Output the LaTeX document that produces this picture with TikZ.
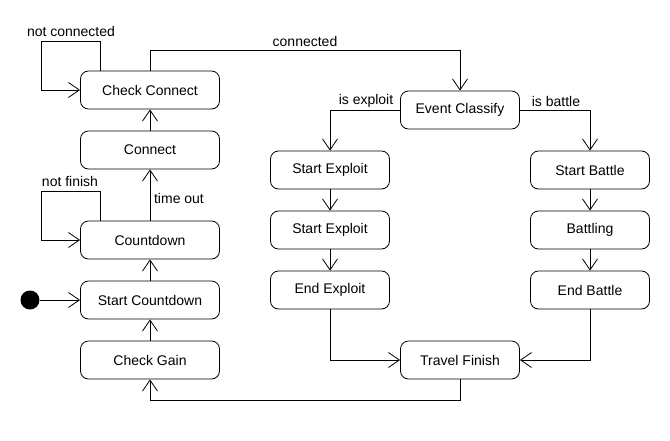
\documentclass[tikz,border=0pt]{standalone}
\usepackage{fontspec}
\setmainfont{Liberation Sans}
\usetikzlibrary{positioning, arrows.meta}

\begin{document}
\begin{tikzpicture}[x=1pt, y=-1pt, line width=0.8pt,
    every node/.style={font=\fontsize{14}{16}\selectfont},
    state/.style={draw, rounded corners=8pt, minimum width=139pt, minimum height=38pt, inner sep=0pt},
    substate/.style={state, minimum width=119pt},
    trans/.style={-{Straight Barb[length=11pt, width=15pt]}}]
    \useasboundingbox (0,0) rectangle (670,440);
    % Left column of states
    \node[state] (chkconn) at (150,90) {Check Connect};
    \node[state] (conn) at (150,150) {Connect};
    \node[state] (cdown) at (150,240) {Countdown};
    \node[state] (startcd) at (150,300) {Start Countdown};
    \node[state] (chkgain) at (150,360) {Check Gain};
    \node[circle, fill, minimum size=19pt, inner sep=0pt] (init) at (30,300) {};
    % Event branch states
    \node[substate] (evclass) at (460,110) {Event Classify};
    \node[substate] (stexp1) at (330,170) {Start Exploit};
    \node[substate] (stexp2) at (330,230) {Start Exploit};
    \node[substate] (endexp) at (330,290) {End Exploit};
    \node[substate] (stbat) at (590,170) {Start Battle};
    \node[substate] (battling) at (590,230) {Battling};
    \node[substate] (endbat) at (590,290) {End Battle};
    \node[substate] (trfin) at (460,360) {Travel Finish};
    % Helper points for bends
    \coordinate (loopA) at (41,41);
    \coordinate (loopB) at (41,191);
    \coordinate (topbend) at (150,50);
    \coordinate (botbend) at (460,400);
    % Transitions
    \draw[trans] (init) -- (startcd);
    \draw[trans] (chkgain) -- (startcd);
    \draw[trans] (startcd) -- (cdown);
    \draw[trans] (cdown) -- (conn);
    \draw[trans] (conn) -- (chkconn);
    \draw[trans] ([xshift=20pt]chkconn.north west) |- (loopA) |- (chkconn.west);
    \draw[trans] ([xshift=20pt]cdown.north west) |- (loopB) |- (cdown.west);
    \draw[trans] (chkconn.north) -- (topbend) -| (evclass.north);
    \draw[trans] (evclass.west) -| (stexp1.north);
    \draw[trans] (evclass.east) -| (stbat.north);
    \draw[trans] (stexp1) -- (stexp2);
    \draw[trans] (stexp2) -- (endexp);
    \draw[trans] (stbat) -- (battling);
    \draw[trans] (battling) -- (endbat);
    \draw[trans] (endexp.south) |- (trfin.west);
    \draw[trans] (endbat.south) |- (trfin.east);
    \draw[trans] (trfin.south) -- (botbend) -| (chkgain.south);
    % Guard labels
    \node (lnotconn) at (71,31) {not connected};
    \node (lnotfin) at (70,181) {not finish};
    \node (lconnected) at (305,41) {connected};
    \node (ltimeout) at (179,198) {time out};
    \node (lisexp) at (366,101) {is exploit};
    \node (lisbat) at (556,101) {is battle};
\end{tikzpicture}
\end{document}
